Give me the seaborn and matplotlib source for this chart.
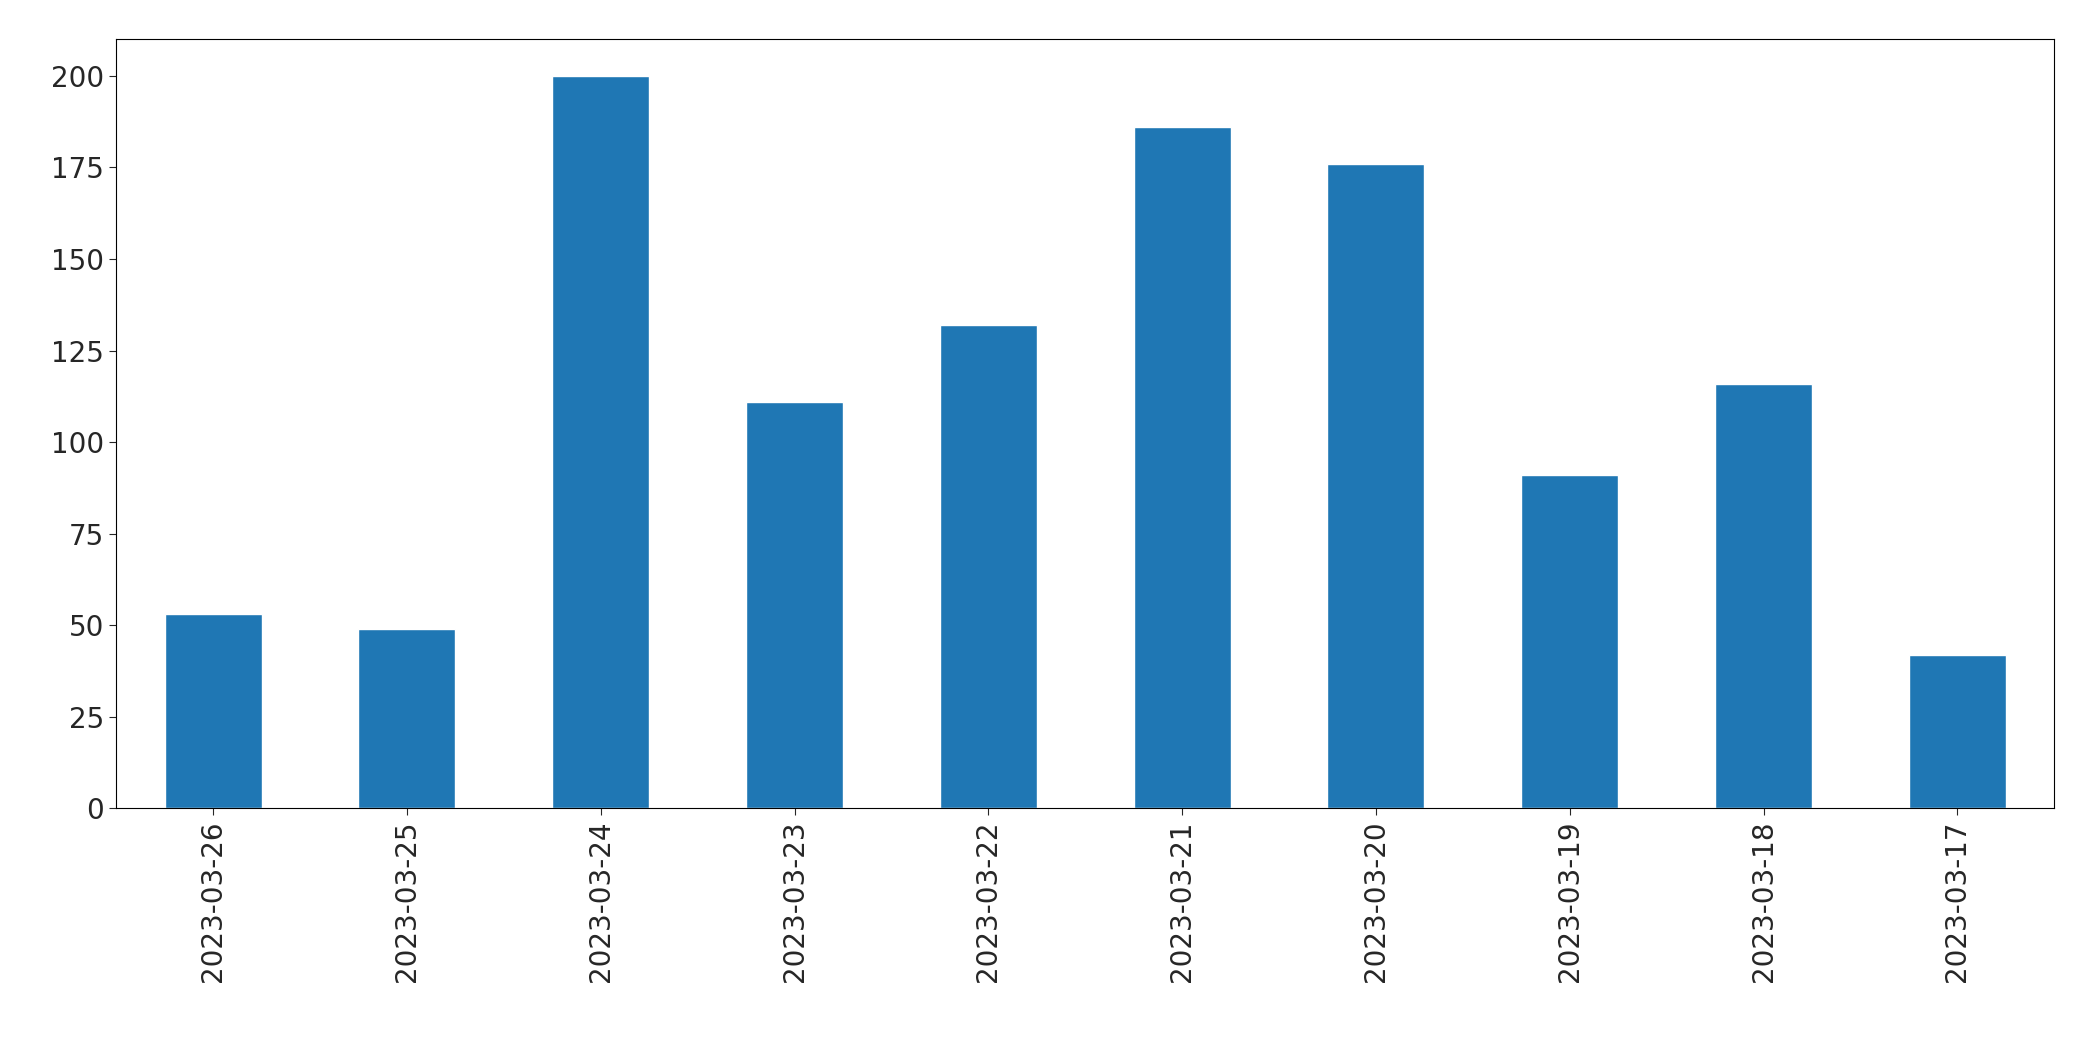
import matplotlib
matplotlib.use("Agg")
import matplotlib.pyplot as plt
import seaborn as sns
import pandas as pd

dates = ["2023-03-26", "2023-03-25", "2023-03-24", "2023-03-23", "2023-03-22",
         "2023-03-21", "2023-03-20", "2023-03-19", "2023-03-18", "2023-03-17"]
counts = [53, 49, 200, 111, 132, 186, 176, 91, 116, 42]

df = pd.DataFrame({"date": dates, "count": counts})

sns.set_style("white")
plt.rcParams['font.family'] = ['DejaVu Sans']
fig = plt.figure(figsize=(20.93, 10.61), dpi=100)
ax = fig.add_axes([0.0555, 0.238, 0.926, 0.725])
sns.barplot(data=df, x="date", y="count", color="#1f77b4", saturation=1, width=0.5, ax=ax)
ax.set_xlabel("")
ax.set_ylabel("")
ax.set_ylim(0, 210)
ax.set_xlim(-0.5, len(dates) - 0.5)
ax.tick_params(axis="x", labelrotation=90, labelsize=20, length=5, bottom=True)
ax.tick_params(axis="y", labelsize=20, length=5, left=True)
for s in ax.spines.values():
    s.set_color("black")
    s.set_linewidth(0.8)
fig.savefig("out.png", dpi=100)
